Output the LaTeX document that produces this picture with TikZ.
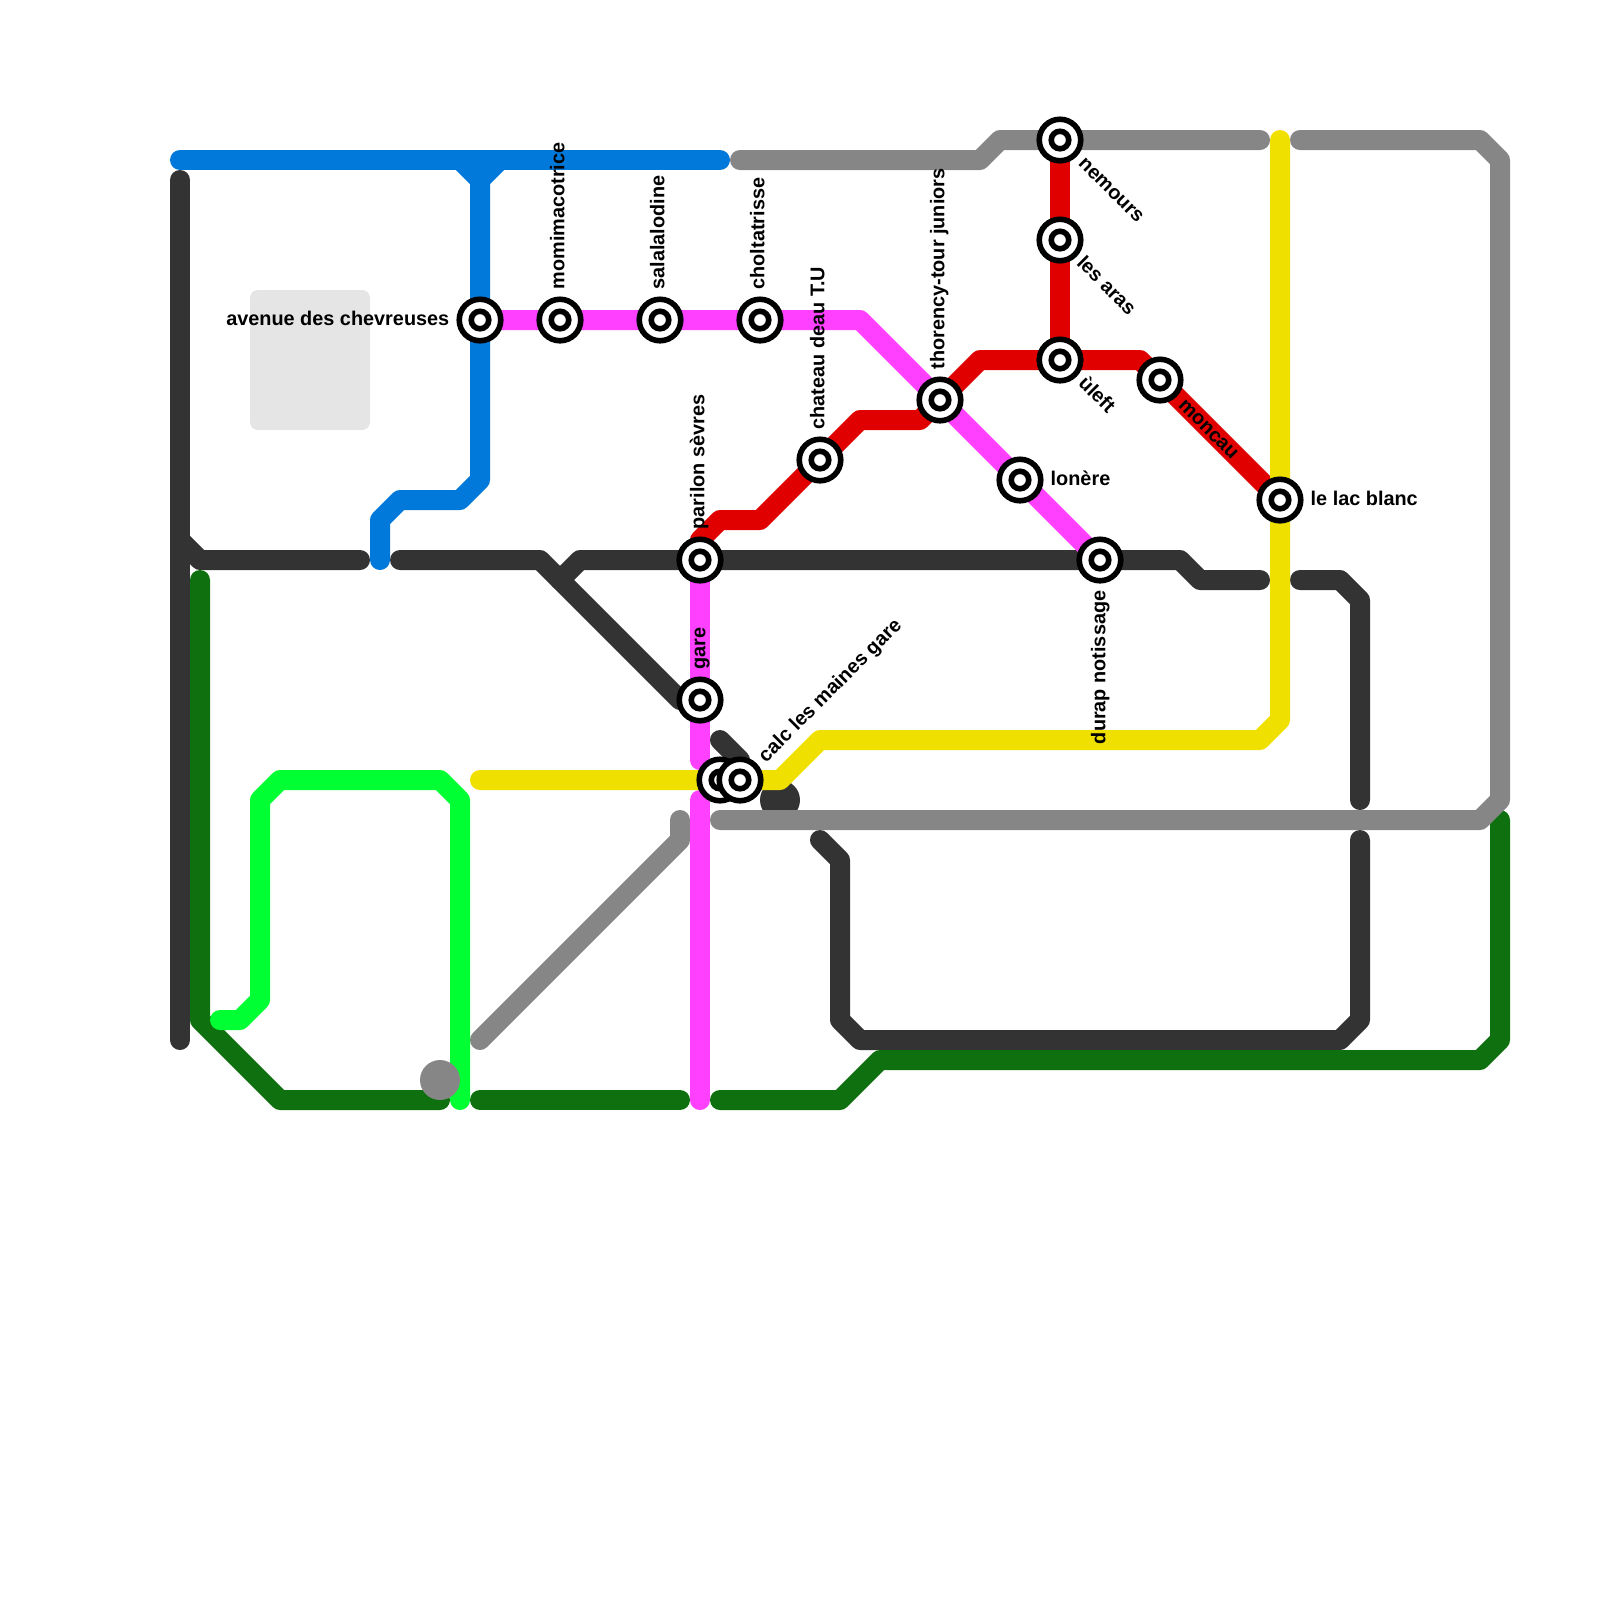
\documentclass[tikz,border=0pt]{standalone}
\usepackage{fontspec}
\setmainfont{Liberation Sans}
\usetikzlibrary{backgrounds}
\definecolor{lineblue}{HTML}{0079DB}
\definecolor{linedark}{HTML}{333333}
\definecolor{linegray}{HTML}{868686}
\definecolor{linepink}{HTML}{FF40FF}
\definecolor{linered}{HTML}{E00000}
\definecolor{lineyellow}{HTML}{F0E000}
\definecolor{linegreen}{HTML}{0E700E}
\definecolor{linelime}{HTML}{00FF33}
\begin{document}
\begin{tikzpicture}[x=0.2cm, y=-0.2cm,
    track/.style={line width=0.2cm, line cap=round, line join=round},
    station/.style={circle, draw=black, fill=white, line width=0.056cm, minimum size=0.415cm, inner sep=0pt,
        path picture={\draw[line width=0.056cm] (path picture bounding box.center) circle (0.0875cm);}},
    stopname/.style={inner sep=0pt, font=\bfseries\fontsize{5.65}{6}\selectfont, text=black}]

    \useasboundingbox (0,0) rectangle (80,80);

    % stations
    \node[station] (avenue) at (24,16) {};
    \node[station] (momi) at (28,16) {};
    \node[station] (sala) at (33,16) {};
    \node[station] (cholta) at (38,16) {};
    \node[station] (chateau) at (41,23) {};
    \node[station] (thorency) at (47,20) {};
    \node[station] (nemours) at (53,7) {};
    \node[station] (aras) at (53,12) {};
    \node[station] (uleft) at (53,18) {};
    \node[station] (moncau) at (58,19) {};
    \node[station] (lac) at (64,25) {};
    \node[station] (lonere) at (51,24) {};
    \node[station] (durap) at (55,28) {};
    \node[station] (parilon) at (35,28) {};
    \node[station] (gare) at (35,35) {};
    \node[station] (nameless) at (36,39) {};
    \node[station] (calc) at (37,39) {};

    % labels
    \node[stopname, anchor=mid east] (avenuet) at (22.5,15.8) {avenue des chevreuses};
    \node[stopname, anchor=mid west, rotate=90] (momit) at (27.75,14.5) {momimacotrice};
    \node[stopname, anchor=mid west, rotate=90] (salat) at (32.75,14.5) {salalalodine};
    \node[stopname, anchor=mid west, rotate=90] (choltat) at (37.75,14.5) {choltatrisse};
    \node[stopname, anchor=mid west, rotate=90] (chateaut) at (40.75,21.5) {chateau deau T.U};
    \node[stopname, anchor=mid west, rotate=90] (thorencyt) at (46.75,18.5) {thorency-tour juniors};
    \node[stopname, anchor=mid west, rotate=90] (parilont) at (34.75,26.5) {parilon sèvres};
    \node[stopname, anchor=mid west, rotate=90] (garet) at (34.8,33.5) {gare};
    \node[stopname, anchor=mid east, rotate=90] (durapt) at (54.8,29.5) {durap notissage};
    \node[stopname, anchor=mid west, rotate=45] (calct) at (37.95,37.85) {calc les maines gare};
    \node[stopname, anchor=mid west, rotate=-45] (nemourst) at (54.18,7.87) {nemours};
    \node[stopname, anchor=mid west, rotate=-45] (arast) at (54.1,12.85) {les aras};
    \node[stopname, anchor=mid west, rotate=-45] (uleftt) at (54.18,18.87) {ùleft};
    \node[stopname, anchor=mid west, rotate=-45] (moncaut) at (59.18,19.97) {moncau};
    \node[stopname, anchor=mid west] (lonueret) at (52.5,23.8) {lonère};
    \node[stopname, anchor=mid west] (lact) at (65.5,24.8) {le lac blanc};

    \begin{scope}[on background layer]
    % park
    \fill[black!10, rounded corners=0.08cm] (12.5,14.5) rectangle (18.5,21.5);

    % dark line
    \fill[linedark] (39,40) circle (0.2cm);
    \draw[track, linedark] (9,9) -- (9,52);
    \draw[track, linedark] (9,27) -- (10,28) -- (18,28);
    \draw[track, linedark] (20,28) -- (27,28) -- (34,35);
    \draw[track, linedark] (28,29) -- (29,28) -- (parilon.center) -- (durap.center) -- (59,28) -- (60,29) -- (63,29);
    \draw[track, linedark] (65,29) -- (67,29) -- (68,30) -- (68,40);
    \draw[track, linedark] (36,37) -- (37,38);
    \draw[track, linedark] (41,42) -- (42,43) -- (42,51) -- (43,52) -- (67,52) -- (68,51) -- (68,42);

    % green line
    \draw[track, linegreen] (10,29) -- (10,51) -- (14,55) -- (22,55);
    \draw[track, linegreen] (24,55) -- (34,55);
    \draw[track, linegreen] (36,55) -- (42,55) -- (44,53) -- (74,53) -- (75,52) -- (75,41);

    % gray line
    \draw[track, linegray] (37,8) -- (49,8) -- (50,7) -- (nemours.center) -- (63,7);
    \draw[track, linegray] (65,7) -- (74,7) -- (75,8) -- (75,40) -- (74,41) -- (36,41);
    \draw[track, linegray] (34,41) -- (34,42) -- (24,52);

    % blue line
    \draw[track, lineblue] (9,8) -- (36,8);
    \draw[track, lineblue] (23,8) -- (24,9) -- (25,8);
    \draw[track, lineblue] (24,9) -- (avenue.center) -- (24,24) -- (23,25) -- (20,25) -- (19,26) -- (19,28);

    % pink line
    \draw[track, linepink] (avenue.center) -- (43,16) -- (durap.center);
    \draw[track, linepink] (parilon.center) -- (35,38);
    \draw[track, linepink] (35,40) -- (35,55);

    % red line
    \draw[track, linered] (35,27) -- (36,26) -- (38,26) -- (43,21) -- (46,21) -- (thorency.center) -- (49,18) -- (57,18) -- (moncau.center) -- (lac.center);
    \draw[track, linered] (nemours.center) -- (uleft.center);

    % yellow line
    \draw[track, lineyellow] (24,39) -- (39,39) -- (41,37) -- (63,37) -- (64,36) -- (lac.center) -- (64,7);

    % lime line
    \draw[track, linelime] (11,51) -- (12,51) -- (13,50) -- (13,40) -- (14,39) -- (22,39) -- (23,40) -- (23,55);

    % gray stop
    \fill[linegray] (22,54) circle (0.2cm);
    \end{scope}

\end{tikzpicture}
\end{document}
